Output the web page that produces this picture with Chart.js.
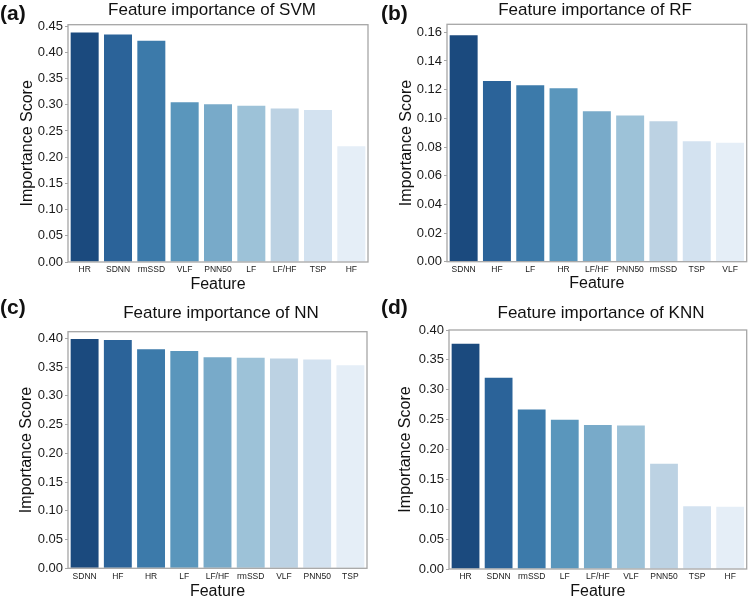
<!DOCTYPE html>
<html lang="en">
<head>
    <meta charset="UTF-8">
    <title>Feature importance</title>
    <script src="https://cdn.jsdelivr.net/npm/chart.js@4/dist/chart.umd.min.js"></script>
    <style>
        * { margin: 0; padding: 0; box-sizing: border-box; }
        body {
            width: 750px; height: 598px; overflow: hidden;
            background: #fff; position: relative;
            font-family: 'Liberation Sans', Arial, sans-serif;
            color: #111;
        }
        .panel { position: absolute; }
        .title {
            position: absolute; width: 300px; height: 22px; line-height: 22px;
            text-align: center; font-size: 17px; white-space: nowrap;
        }
        .tag {
            position: absolute; font-size: 21px; font-weight: bold;
            height: 26px; line-height: 26px;
        }
    </style>
</head>
<body>
    <div class="panel" style="left:0;top:0;width:375px;height:299px"><canvas id="svm"></canvas></div>
    <div class="panel" style="left:375px;top:0;width:375px;height:299px"><canvas id="rf"></canvas></div>
    <div class="panel" style="left:0;top:299px;width:375px;height:320px"><canvas id="nn"></canvas></div>
    <div class="panel" style="left:375px;top:299px;width:375px;height:320px"><canvas id="knn"></canvas></div>

    <div class="title" style="left:62px;top:-1px">Feature importance of SVM</div>
    <div class="title" style="left:445px;top:-1px">Feature importance of RF</div>
    <div class="title" style="left:71px;top:302px">Feature importance of NN</div>
    <div class="title" style="left:451px;top:302px">Feature importance of KNN</div>

    <div class="tag" style="left:0;top:0">(a)</div>
    <div class="tag" style="left:381px;top:0">(b)</div>
    <div class="tag" style="left:0;top:294px">(c)</div>
    <div class="tag" style="left:381px;top:294px">(d)</div>

    <script>
        const blues = ['#1b4a7e', '#2b6399', '#3c7aaa', '#5a96bc', '#78aac9', '#9dc2d8', '#bcd2e3', '#d3e2f0', '#e5eef7'];

        const svmFeatures = ['HR', 'SDNN', 'rmSSD', 'VLF', 'PNN50', 'LF', 'LF/HF', 'TSP', 'HF'];
        const svmScores = [0.438, 0.434, 0.422, 0.305, 0.301, 0.298, 0.293, 0.290, 0.221];

        const rfFeatures = ['SDNN', 'HF', 'LF', 'HR', 'LF/HF', 'PNN50', 'rmSSD', 'TSP', 'VLF'];
        const rfScores = [0.158, 0.126, 0.123, 0.121, 0.105, 0.102, 0.098, 0.084, 0.083];

        const nnFeatures = ['SDNN', 'HF', 'HR', 'LF', 'LF/HF', 'rmSSD', 'VLF', 'PNN50', 'TSP'];
        const nnScores = [0.399, 0.397, 0.381, 0.378, 0.367, 0.366, 0.365, 0.363, 0.353];

        const knnFeatures = ['HR', 'SDNN', 'rmSSD', 'LF', 'LF/HF', 'VLF', 'PNN50', 'TSP', 'HF'];
        const knnScores = [0.377, 0.320, 0.267, 0.250, 0.241, 0.240, 0.176, 0.105, 0.104];

        const frameColor = '#a6a6a6';
        const font = "'Liberation Sans', Arial, sans-serif";

        // box around the plot area (all four spines)
        const framePlugin = {
            id: 'frame',
            afterDraw(chart) {
                const a = chart.chartArea, ctx = chart.ctx;
                ctx.save();
                ctx.strokeStyle = frameColor;
                ctx.lineWidth = 1.3;
                ctx.strokeRect(a.left, a.top, a.right - a.left, a.bottom - a.top);
                ctx.restore();
            }
        };

        function makeChart(id, labels, values, s) {
            new Chart(document.getElementById(id), {
                type: 'bar',
                data: {
                    labels: labels,
                    datasets: [{
                        data: values,
                        backgroundColor: blues,
                        borderWidth: 0,
                        barPercentage: 0.84,
                        categoryPercentage: 1
                    }]
                },
                options: {
                    responsive: true,
                    maintainAspectRatio: false,
                    animation: false,
                    layout: { padding: { top: s.top, right: s.right, left: 0, bottom: 0 } },
                    plugins: { legend: { display: false }, tooltip: { enabled: false } },
                    scales: {
                        x: {
                            afterFit: (sc) => { sc.height = s.xHeight; },
                            grid: { display: false, drawTicks: false },
                            border: { display: false },
                            ticks: {
                                color: '#1a1a1a', padding: 3, maxRotation: 0, autoSkip: false,
                                font: { family: font, size: 8.5 }
                            },
                            title: {
                                display: true, text: 'Feature', color: '#111',
                                font: { family: font, size: 16 },
                                padding: { top: 0, bottom: s.xTitlePad }
                            }
                        },
                        y: {
                            min: 0,
                            max: s.max,
                            afterFit: (sc) => { sc.width = s.yWidth; },
                            grid: { drawOnChartArea: false, drawTicks: true, tickLength: 3, color: frameColor },
                            border: { display: false },
                            ticks: {
                                stepSize: s.step, includeBounds: false, padding: 2,
                                color: '#1a1a1a', font: { family: font, size: 13 },
                                callback: (v) => v.toFixed(2)
                            },
                            title: {
                                display: true, text: 'Importance Score', color: '#111',
                                font: { family: font, size: 16 },
                                padding: { top: s.yTitlePad, bottom: 0 }
                            }
                        }
                    }
                },
                plugins: [framePlugin]
            });
        }

        makeChart('svm', svmFeatures, svmScores,
            { top: 24.7, right: 7, yWidth: 68, xHeight: 37, max: 0.4528, step: 0.05, yTitlePad: 18.4, xTitlePad: 4.4 });
        makeChart('rf', rfFeatures, rfScores,
            { top: 24.3, right: 3.3, yWidth: 72, xHeight: 37.3, max: 0.1656, step: 0.02, yTitlePad: 22, xTitlePad: 6 });
        makeChart('nn', nnFeatures, nnScores,
            { top: 32.7, right: 8, yWidth: 68, xHeight: 50.7, max: 0.4115, step: 0.05, yTitlePad: 16.7, xTitlePad: 17.7 });
        makeChart('knn', knnFeatures, knnScores,
            { top: 31, right: 3.3, yWidth: 74, xHeight: 50, max: 0.40, step: 0.05, yTitlePad: 21.2, xTitlePad: 17.7 });
    </script>
</body>
</html>
